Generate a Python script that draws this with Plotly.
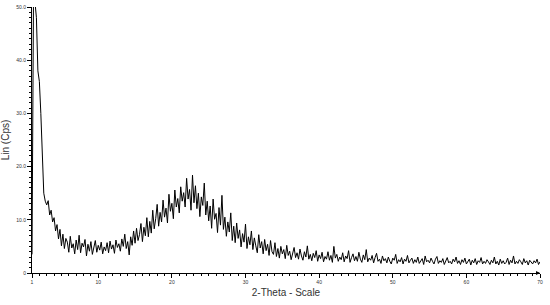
"""XRD scan: Lin (Cps) against 2-Theta."""
import numpy as np
import plotly.graph_objects as go

# scan grid: 2-Theta from 1.0 to 70.0, step 0.2
THETA_START = 1.0
THETA_STEP = 0.2

counts = [
    3.5, 51, 51, 48, 38, 36, 30, 21, 15, 13.5,
    12.8, 13.6, 10.9, 11.8, 9.6, 10.4, 7.9, 9.1, 6.4, 8.2,
    5.1, 7.3, 4.6, 6.5, 5.8, 3.9, 6.9, 4.7, 5.5, 3.6,
    6.2, 4.4, 7.1, 3.8, 5.6, 4.9, 6.3, 3.2, 5.4, 4.1,
    5.9, 3.5, 4.8, 6.1, 3.9, 5.2, 4.3, 5.8, 3.6, 4.9,
    4.2, 5.7, 3.8, 6.0, 4.5, 5.3, 3.7, 6.2, 4.8, 5.5,
    4.1, 6.4, 5.0, 7.3, 4.6, 5.9, 3.4, 6.8, 5.2, 7.9,
    5.6, 8.4, 6.1, 7.2, 9.3, 5.9, 8.6, 7.0, 10.4, 6.8,
    9.7, 7.5, 11.8, 8.3, 10.2, 12.9, 8.8, 11.4, 9.6, 13.7,
    10.5, 12.2, 9.4, 14.8, 11.6, 13.1, 10.2, 15.6, 12.4, 14.0,
    11.3, 16.2, 13.5, 15.1, 12.4, 17.8, 13.9, 15.7, 11.8, 18.4,
    13.2, 16.4, 12.1, 15.0, 10.6, 14.3, 12.7, 16.9, 10.9, 13.5,
    9.8, 12.6, 8.4, 13.9, 10.1, 11.2, 7.6, 12.3, 9.0, 14.6,
    8.2, 10.5, 6.9, 9.6, 7.7, 11.3, 6.1, 8.8, 5.7, 9.4,
    6.5, 8.1, 4.9, 7.4, 5.8, 9.2, 4.6, 6.8, 5.3, 7.9,
    4.4, 6.6, 5.1, 3.8, 7.2, 4.7, 5.9, 3.6, 6.3, 4.2,
    5.4, 3.3, 6.1, 4.0, 3.5, 5.7, 3.1, 4.6, 2.8, 5.0,
    3.6, 4.4, 2.7, 5.2, 3.3, 4.1, 2.5, 3.9, 4.8, 2.9,
    3.8, 2.6, 4.5, 3.2, 2.4, 4.0, 3.0, 5.1, 2.6, 3.5,
    2.3, 3.7, 2.9, 4.2, 2.2, 3.4, 2.7, 3.9, 2.1, 3.1,
    2.6, 4.0, 2.4, 3.3, 2.0, 5.0, 2.8, 3.5, 2.2, 3.0,
    2.5, 3.8, 2.1, 3.2, 2.7, 4.2, 2.0, 2.9, 3.6, 2.3,
    3.1, 2.2, 3.9, 2.6, 2.0, 3.4, 2.5, 4.4, 2.1, 2.8,
    2.4, 3.3, 1.9, 2.9, 3.7, 2.2, 2.6, 1.8, 3.2, 2.3,
    2.7, 1.9, 3.0, 2.2, 1.7, 2.8, 2.4, 3.5, 1.8, 2.5,
    2.1, 2.9, 1.7, 2.6, 2.2, 3.3, 1.9, 2.4, 2.8, 1.8,
    2.5, 2.0, 3.0, 1.8, 2.3, 2.7, 1.6, 3.2, 2.1, 2.4,
    1.9, 2.8, 2.2, 1.7, 2.6, 3.1, 1.8, 2.3, 2.0, 2.7,
    1.6, 2.4, 2.9, 1.9, 2.2, 1.7, 2.6, 2.1, 3.0, 1.8,
    2.3, 1.6, 2.5, 2.0, 2.8, 1.7, 2.2, 2.6, 1.5, 2.4,
    1.9, 2.7, 1.6, 2.3, 2.0, 2.9, 1.7, 2.2, 1.8, 2.5,
    2.1, 1.6, 2.4, 1.9, 3.0, 1.7, 2.2, 1.5, 2.6, 1.8,
    2.3, 1.7, 2.0, 2.8, 1.6, 2.4, 1.9, 3.2, 1.7, 2.2,
    1.8, 2.5, 2.1, 1.6, 2.7, 1.9, 2.3, 1.5, 2.4, 2.0,
    1.7, 2.3, 1.9, 2.6, 1.6, 2.1,
]
two_theta = np.round(THETA_START + THETA_STEP * np.arange(len(counts)), 2)

x_ticks = [1, 10, 20, 30, 40, 50, 60, 70]
y_ticks = [0, 10, 20, 30, 40, 50]
y_tick_text = ["0", "10.0", "20.0", "30.0", "40.0", "50.0"]

FONT = "Liberation Sans, Arial, sans-serif"

fig = go.Figure(go.Scatter(
    x=two_theta, y=counts, mode="lines",
    line=dict(color="black", width=1),
    showlegend=False,
))

axis_common = dict(
    showline=True, linecolor="black", linewidth=1,
    showgrid=False, zeroline=False, automargin=False,
    ticks="outside", ticklen=4, tickcolor="black",
    ticklabeloverflow="allow",
    tickfont=dict(size=5, color="#333", family=FONT),
)

fig.update_xaxes(
    range=[1, 70], tickvals=x_ticks,
    minor=dict(dtick=1, tick0=0, ticks="outside", ticklen=2, tickcolor="black"),
    title=dict(text="2-Theta - Scale", font=dict(size=10, color="#333", family=FONT),
               standoff=4),
    **axis_common,
)
fig.update_yaxes(
    range=[0, 50], tickvals=y_ticks, ticktext=y_tick_text,
    minor=dict(dtick=1, tick0=0, ticks="outside", ticklen=2, tickcolor="black"),
    title=dict(text="Lin (Cps)", font=dict(size=10, color="#333", family=FONT),
               standoff=4),
    **axis_common,
)

# arrow head at the end of the scale
fig.add_annotation(x=70, y=0, xref="x", yref="y", ax=-5, ay=0,
                   showarrow=True, arrowhead=2, arrowsize=0.8, arrowwidth=1,
                   arrowcolor="black", text="")

fig.update_layout(
    width=550, height=305,
    margin=dict(l=32, r=10, t=7, b=32),
    plot_bgcolor="white", paper_bgcolor="white",
    font=dict(family=FONT),
)

# drop the browser's default body margin so the figure sits at the page corner
fig.write_html("out.html", config={"displayModeBar": False},
               post_script="document.body.style.margin='0';")
